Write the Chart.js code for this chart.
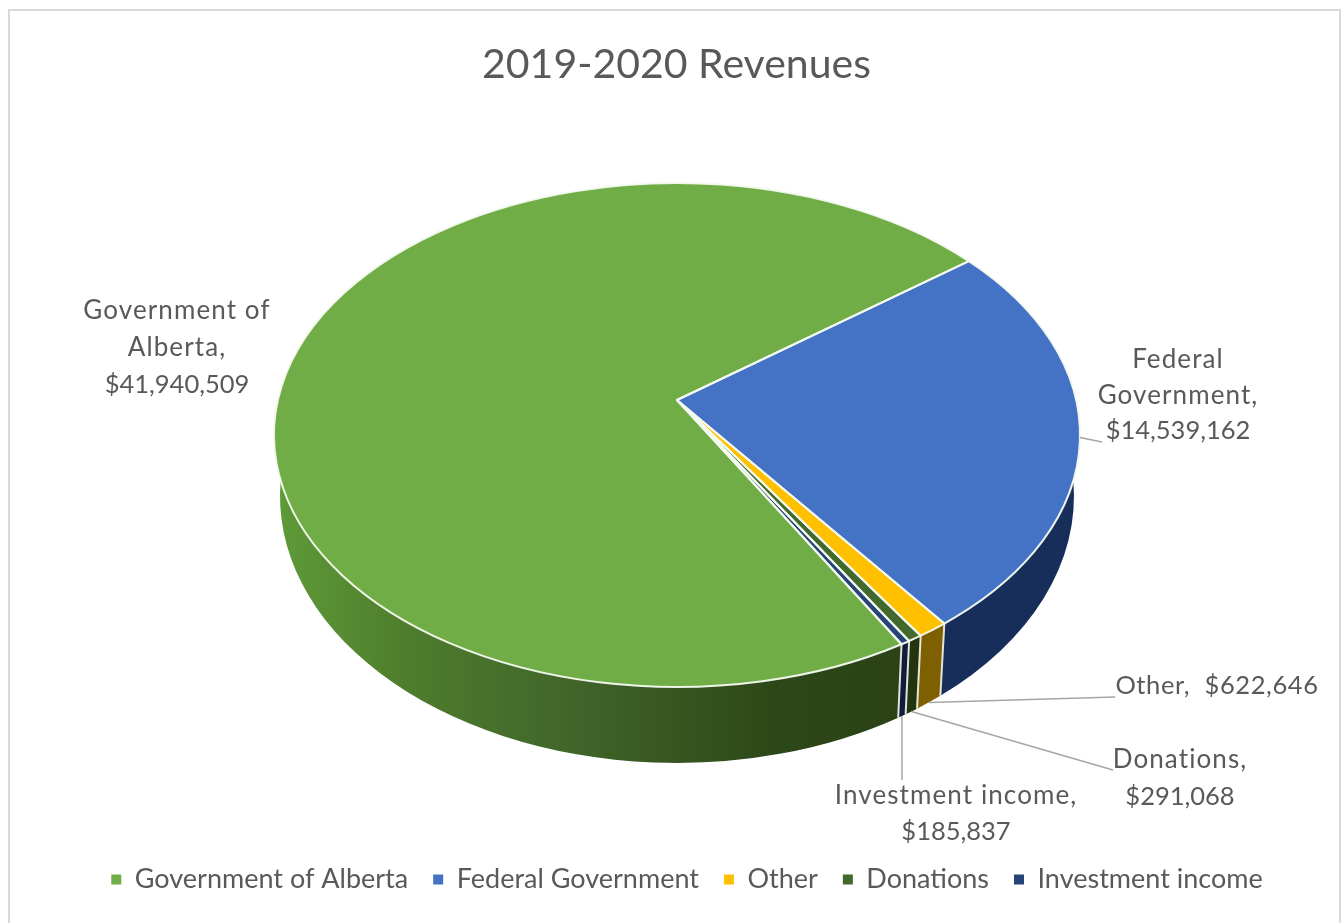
<!DOCTYPE html>
<html><head><meta charset="utf-8">
<style>html,body{margin:0;padding:0;background:#fff}#wrap{width:1344px;height:923px}</style>
<script src="https://cdn.jsdelivr.net/npm/chart.js@4/dist/chart.umd.min.js"></script>
</head><body><div id="wrap"><canvas id="c" width="1344" height="923"></canvas></div>
<script>
const categories = ["Government of Alberta","Federal Government","Other","Donations","Investment income"];
const revenues = [41940509,14539162,622646,291068,185837];
const sliceColors = ["#70ad47","#4472c4","#ffc000","#43682b","#264478"];
const wallColors = [
  [[0,"#5e9a38"],[0.2,"#4f7d2d"],[0.45,"#41672a"],[0.8,"#2d4818"],[1,"#2a4215"]],
  [[0,"#172d5a"],[1,"#172d5a"]],
  [[0,"#7f6000"],[1,"#7f6000"]],
  [[0,"#22350f"],[1,"#22350f"]],
  [[0,"#101c3c"],[1,"#101c3c"]]
];
const labelLines = [["Government of","Alberta,"],["Federal","Government,"],["Other, "],["Donations,"],["Investment income,"]];
const chartTitle = "2019-2020 Revenues";

const TEXT = "#595959", FONT = "Lato, Carlito, sans-serif", LEADER = "#a6a6a6";
const TOP = {cx:677,cy:435,rx:403,ry:252}, BOT = {cx:677,cy:496,rx:397,ry:267};
const APEX_Y = 400, PA = 399, PB = 247.5, PC = -0.1406;
const RAD = Math.PI/180;
const T_R = 10.3*RAD, T_L = 169.7*RAD, B_R = -3.4*RAD, B_L = 183.4*RAD;

function project(th){
  const d = 1 + PC*Math.sin(th);
  return {x: TOP.cx + PA*Math.cos(th)/d, y: APEX_Y + PB*Math.sin(th)/d};
}
function ellipseParam(th){
  const p = project(th);
  return Math.atan2((p.y-TOP.cy)/TOP.ry,(p.x-TOP.cx)/TOP.rx);
}
function on(e,t){return {x:e.cx+e.rx*Math.cos(t),y:e.cy+e.ry*Math.sin(t)};}

const labelLayout = [
  {x:177,y:311,lh:37},
  {x:1178,y:360,lh:35.5},
  {x:1217,y:686,lh:36,inline:true},
  {x:1180,y:760,lh:37},
  {x:956,y:796,lh:36}
];
const leaderEnds = [null,[[1102,442]],[[1115,697]],[[1113,770]],[[902,780]]];
const LEGEND_SHIFT = 10.5;

const pie3d = {
  id:"pie3d",
  afterLayout(chart){
    chart.legend.left += LEGEND_SHIFT;
    chart.legend.right += LEGEND_SHIFT;
  },
  beforeDraw(chart){
    const {ctx,width,height}=chart;
    ctx.save();
    ctx.fillStyle="#fff";ctx.fillRect(0,0,width,height);
    ctx.strokeStyle="#d9d9d9";ctx.lineWidth=2;
    ctx.beginPath();ctx.moveTo(9,923);ctx.lineTo(9,10);ctx.lineTo(1340,10);ctx.lineTo(1340,923);ctx.stroke();
    ctx.restore();
  },
  beforeDatasetsDraw(chart){
    const ctx=chart.ctx, arcs=chart.getDatasetMeta(0).data;
    const spans=arcs.map(a=>{
      let t1=ellipseParam(a.startAngle), t2=ellipseParam(a.endAngle);
      while(t1<-Math.PI/2) t1+=2*Math.PI;
      while(t2<t1) t2+=2*Math.PI;
      return [t1,t2];
    });
    ctx.save();
    // side wall
    spans.forEach(([a,b],i)=>{
      const topA=Math.max(a,T_R), topB=Math.min(b,T_L);
      if(topA>=topB) return;
      const botA=a<T_R?B_R:a, botB=b>T_L?B_L:b;
      const g=ctx.createLinearGradient(on(BOT,botB).x,0,on(BOT,botA).x,0);
      const stops=wallColors[i];
      stops.forEach(s=>g.addColorStop(s[0],s[1]));
      ctx.beginPath();
      ctx.ellipse(TOP.cx,TOP.cy,TOP.rx,TOP.ry,0,topA,topB);
      ctx.ellipse(BOT.cx,BOT.cy,BOT.rx,BOT.ry,0,botB,botA,true);
      ctx.closePath();
      ctx.fillStyle=g;ctx.fill();
    });
    // separators on the wall
    ctx.strokeStyle="rgba(235,235,225,0.95)";ctx.lineWidth=2;
    spans.forEach(([a],i)=>{
      if(a<T_R||a>T_L) return;
      const p=on(TOP,a),q=on(BOT,a);
      ctx.beginPath();ctx.moveTo(p.x,p.y);ctx.lineTo(q.x,q.y);ctx.stroke();
    });
    // top face
    arcs.forEach((arc,i)=>{
      const [a,b]=spans[i];
      ctx.beginPath();
      ctx.moveTo(TOP.cx,APEX_Y);
      ctx.ellipse(TOP.cx,TOP.cy,TOP.rx,TOP.ry,0,a,b);
      ctx.closePath();
      ctx.fillStyle=arc.options.backgroundColor;ctx.fill();
    });
    ctx.strokeStyle="rgba(244,250,240,0.95)";ctx.lineWidth=2;ctx.lineJoin="round";
    arcs.forEach((arc,i)=>{
      const [a,b]=spans[i];
      ctx.beginPath();
      ctx.moveTo(TOP.cx,APEX_Y);
      ctx.ellipse(TOP.cx,TOP.cy,TOP.rx,TOP.ry,0,a,b);
      ctx.closePath();
      ctx.stroke();
    });
    // leader lines and labels
    ctx.strokeStyle=LEADER;ctx.lineWidth=1.5;
    arcs.forEach((arc,i)=>{
      const ends=leaderEnds[i];
      if(!ends) return;
      const mid=(spans[i][0]+spans[i][1])/2;
      const s=i===1?on(TOP,0.01):on(BOT,mid);
      ctx.beginPath();ctx.moveTo(s.x,s.y);
      ends.forEach(e=>ctx.lineTo(e[0],e[1]));
      ctx.stroke();
    });
    ctx.fillStyle=TEXT;ctx.textAlign="center";ctx.textBaseline="middle";
    revenues.forEach((v,i)=>{
      const L=labelLayout[i], money="$"+v.toLocaleString("en-US");
      if(L.inline){
        ctx.font="25.5px "+FONT;ctx.letterSpacing="0.6px";
        ctx.fillText(labelLines[i][0]+" "+money,L.x,L.y);return;
      }
      labelLines[i].forEach((t,k)=>{
        ctx.font="26px "+FONT;ctx.letterSpacing="1.1px";
        ctx.fillText(t,L.x,L.y+k*L.lh);
      });
      ctx.font="25.5px "+FONT;ctx.letterSpacing="0px";
      ctx.fillText(money,L.x,L.y+labelLines[i].length*L.lh);
    });
    ctx.letterSpacing="0px";
    ctx.restore();
    return false;
  }
};

new Chart(document.getElementById("c"),{
  type:"pie",
  data:{labels:categories,datasets:[{data:revenues,backgroundColor:sliceColors,borderWidth:0}]},
  options:{
    responsive:false,animation:false,rotation:150.3,
    layout:{padding:{top:40,bottom:20,left:9}},
    plugins:{
      tooltip:{enabled:false},
      title:{display:true,text:chartTitle,color:TEXT,font:{family:FONT,size:41,weight:"normal"},padding:{top:0,bottom:10}},
      legend:{position:"bottom",labels:{color:TEXT,font:{family:FONT,size:27},usePointStyle:true,pointStyle:"rect",boxWidth:10,boxHeight:10,padding:25}}
    }
  },
  plugins:[pie3d]
});
</script></body></html>
